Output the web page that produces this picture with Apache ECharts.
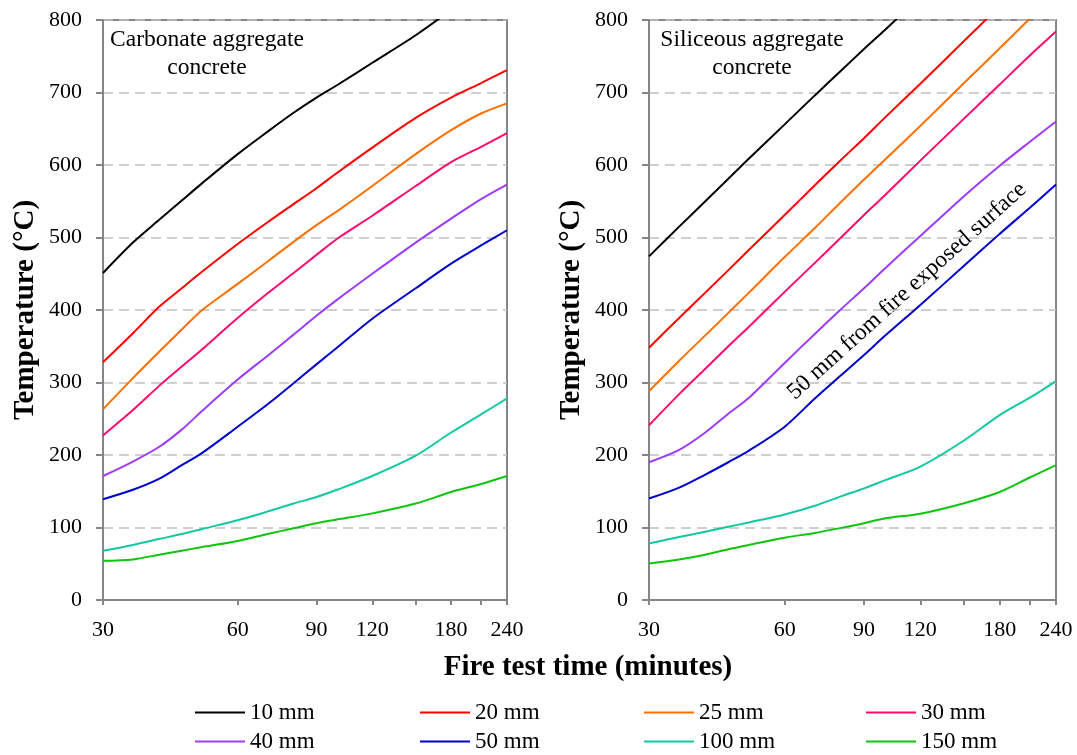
<!DOCTYPE html>
<html>
<head>
<meta charset="utf-8">
<script src="https://cdn.jsdelivr.net/npm/echarts@6/dist/echarts.min.js"></script>
<style>
  html, body { margin: 0; padding: 0; background: #fff; }
  #chart { width: 1077px; height: 755px; }
</style>
</head>
<body>
<div id="chart"></div>
<script>
// Fire exposure time (minutes) at which temperatures are sampled
const times = [30, 35, 40, 45, 50, 60, 70, 80, 90, 100, 120, 150, 180, 210, 240];

// Depth below the fire-exposed surface
const depths = ['10 mm', '20 mm', '25 mm', '30 mm', '40 mm', '50 mm', '100 mm', '150 mm'];

// Temperature (°C) in carbonate aggregate concrete, one array per depth
const carb10  = [451, 493, 524, 551, 575, 615, 646, 672, 693, 710, 741, 779, 814, null, null];
const carb20  = [328, 368, 404, 430, 453, 491, 521, 546, 568, 589, 624, 665, 693, 713, 731];
const carb25  = [263, 306, 342, 373, 400, 436, 467, 494, 517, 536, 571, 615, 648, 671, 685];
const carb30  = [227, 262, 295, 322, 346, 389, 423, 451, 476, 498, 530, 571, 604, 625, 644];
const carb40  = [171, 191, 211, 235, 261, 304, 337, 366, 392, 414, 450, 493, 526, 553, 573];
const carb50  = [139, 152, 167, 186, 203, 239, 270, 299, 325, 348, 388, 430, 464, 489, 510];
const carb100 = [68, 76, 84, 91, 98, 110, 122, 133, 142, 152, 171, 199, 231, 256, 278];
const carb150 = [54, 56, 62.5, 68, 73, 81.5, 91, 99, 106, 111, 119.5, 133, 149, 160, 171];

// Temperature (°C) in siliceous aggregate concrete, one array per depth
const sil10  = [474, 515, 550, 581, 609, 656, 696, 730, 760, 786, 832, null, null, null, null];
const sil20  = [348, 389, 424, 455, 483, 531, 572, 607, 637, 665, 712, 771, 819, null, null];
const sil25  = [288, 330, 365, 396, 424, 473, 513, 549, 580, 607, 654, 713, 761, 802, null];
const sil30  = [241, 284, 319, 350, 377, 425, 465, 500, 531, 558, 606, 664, 711, 751, 784];
const sil40  = [190, 207, 231, 257, 279, 327, 367, 401, 430, 457, 502, 557, 599, 632, 660];
const sil50  = [140, 155, 173, 190, 206, 239, 278, 310, 338, 364, 407, 461, 505, 541, 573];
const sil100 = [78, 87, 94, 101, 107, 118, 130, 143, 154, 165, 184, 220, 255, 279, 302];
const sil150 = [50.5, 56, 62.5, 70, 76, 86, 92.5, 99.5, 106, 112.5, 119, 133.5, 149, 169, 186];

// Axis ticks and labels
const xTickValues  = [30, 60, 90, 120, 150, 180, 210, 240];
const xLabelValues = [30, 60, 90, 120, 180, 240];
const yTickLabels  = [0, 100, 200, 300, 400, 500, 600, 700, 800];

const carbonate = [carb10, carb20, carb25, carb30, carb40, carb50, carb100, carb150];
const siliceous = [sil10, sil20, sil25, sil30, sil40, sil50, sil100, sil150];

const colors = ['#000000', '#ff0000', '#ff6f00', '#ff0a6c', '#9b3cff', '#0000cc', '#12c9a0', '#10c410'];
const FONT = '"Liberation Serif", "Times New Roman", serif';
const AXIS_GREY = '#868686';

function buildSeries(table, idx) {
  return depths.map((name, i) => ({
    name: name,
    type: 'line',
    xAxisIndex: idx,
    yAxisIndex: idx,
    symbol: 'none',
    smooth: 0.3,
    clip: true,
    lineStyle: { width: 2, color: colors[i] },
    itemStyle: { color: colors[i] },
    emphasis: { disabled: true },
    data: times.map((t, j) => [t, table[i][j]]).filter(p => p[1] !== null)
  }));
}

function xAxis(idx) {
  return {
    type: 'log',
    logBase: 10,
    gridIndex: idx,
    min: 30,
    max: 240,
    axisLine: { show: true, lineStyle: { color: AXIS_GREY, width: 2 } },
    axisTick: { show: true, inside: false, length: 5, customValues: xTickValues,
                lineStyle: { color: AXIS_GREY, width: 2 } },
    axisLabel: { customValues: xLabelValues, fontSize: 22, fontFamily: FONT, color: '#000', margin: 19 },
    splitLine: { show: false },
    minorTick: { show: false },
    minorSplitLine: { show: false }
  };
}

function yAxis(idx) {
  return {
    type: 'value',
    gridIndex: idx,
    min: yTickLabels[0],
    max: yTickLabels[yTickLabels.length - 1],
    interval: 100,
    name: 'Temperature (°C)',
    nameLocation: 'middle',
    nameGap: 63,
    nameTextStyle: { fontSize: 29, fontWeight: 'bold', fontFamily: FONT, color: '#000' },
    axisLine: { show: true, lineStyle: { color: AXIS_GREY, width: 2 } },
    axisTick: { show: true, inside: false, length: 7, lineStyle: { color: AXIS_GREY, width: 2 } },
    axisLabel: { fontSize: 22, fontFamily: FONT, color: '#000', margin: 21 },
    splitLine: { show: true, lineStyle: { color: '#c0c0c0', width: 1.5, type: [10, 6] } }
  };
}

const legendColumns = [['10 mm', '40 mm'], ['20 mm', '50 mm'], ['25 mm', '100 mm'], ['30 mm', '150 mm']];
const legendLeft = [195, 420, 644, 866];

const chart = echarts.init(document.getElementById('chart'), null, { renderer: 'canvas' });

chart.setOption({
  backgroundColor: '#ffffff',
  animation: false,
  grid: [
    { left: 103, right: 570, top: 20, bottom: 155, show: true, borderColor: AXIS_GREY, borderWidth: 2 },
    { left: 649, right: 21, top: 20, bottom: 155, show: true, borderColor: AXIS_GREY, borderWidth: 2 }
  ],
  xAxis: [xAxis(0), xAxis(1)],
  yAxis: [yAxis(0), yAxis(1)],
  legend: legendColumns.map((col, k) => ({
    data: col,
    orient: 'vertical',
    left: legendLeft[k],
    top: 701,
    width: 200,
    height: 120,
    padding: 0,
    icon: 'rect',
    itemWidth: 50,
    itemHeight: 2,
    itemGap: 6,
    selectedMode: false,
    textStyle: { fontSize: 23, fontFamily: FONT, color: '#000', lineHeight: 22 }
  })),
  graphic: [
    {
      type: 'text', x: 207, y: 26, silent: true,
      style: { text: 'Carbonate aggregate\nconcrete', align: 'center', verticalAlign: 'top',
               fontSize: 23.5, fontFamily: FONT, fill: '#000', lineHeight: 28 }
    },
    {
      type: 'text', x: 752, y: 26, silent: true,
      style: { text: 'Siliceous aggregate\nconcrete', align: 'center', verticalAlign: 'top',
               fontSize: 23.5, fontFamily: FONT, fill: '#000', lineHeight: 28 }
    },
    {
      type: 'text', x: 907, y: 291, rotation: 42 * Math.PI / 180, silent: true,
      style: { text: '50 mm from fire exposed surface', align: 'center', verticalAlign: 'middle',
               fontSize: 23.5, fontFamily: FONT, fill: '#000' }
    },
    {
      type: 'text', x: 588, y: 668, silent: true,
      style: { text: 'Fire test time (minutes)', align: 'center', verticalAlign: 'middle',
               fontSize: 29, fontWeight: 'bold', fontFamily: FONT, fill: '#000' }
    }
  ],
  series: buildSeries(carbonate, 0).concat(buildSeries(siliceous, 1))
});
</script>
</body>
</html>
